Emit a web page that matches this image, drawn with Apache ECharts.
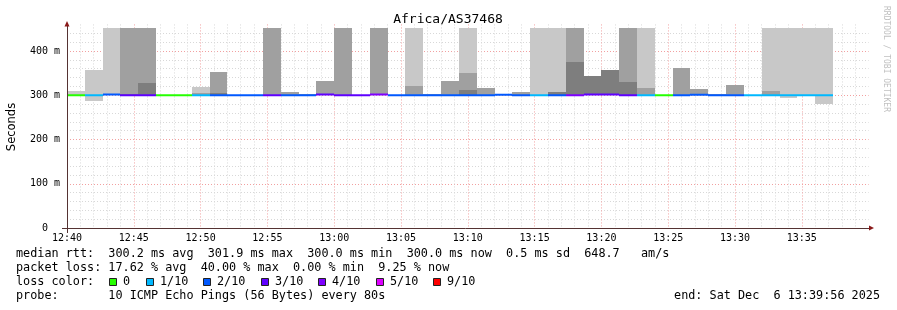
<!DOCTYPE html>
<html><head><meta charset="utf-8">
<script src="https://cdn.jsdelivr.net/npm/echarts@6/dist/echarts.min.js"></script>
<style>html,body{margin:0;padding:0;background:#fff}#c{width:897px;height:310px}</style>
</head><body><div id="c"></div>
<script>
// ---- data ----
const stepTimes = ['12:40:00','12:41:20','12:42:40','12:44:00','12:45:20','12:46:40','12:48:00','12:49:20','12:50:40','12:52:00',
  '12:53:20','12:54:40','12:56:00','12:57:20','12:58:40','13:00:00','13:01:20','13:02:40','13:04:00','13:05:20',
  '13:06:40','13:08:00','13:09:20','13:10:40','13:12:00','13:13:20','13:14:40','13:16:00','13:17:20','13:18:40',
  '13:20:00','13:21:20','13:22:40','13:24:00','13:25:20','13:26:40','13:28:00','13:29:20','13:30:40','13:32:00',
  '13:33:20','13:34:40','13:36:00'];
const stepSeconds = 80;
const lightLo = [300,288,300,null,null,null,null,300,null,null, null,null,null,null,null,null,null,null,null,300,
  null,null,300,null,null,null,300,300,null,null, null,null,300,null,null,null,null,null,null,300, 294,300,280];
const lightHi = [310,357,453,null,null,null,null,319,null,null, null,null,null,null,null,null,null,null,null,453,
  null,null,453,null,null,null,453,453,null,null, null,null,453,null,null,null,null,null,null,453, 453,453,453];
const midLo = [null,null,null,300,300,null,null,300,300,null, null,300,300,300,300,300,null,300,null,300,
  300,300,300,300,null,300,null,null,300,null, null,300,300,null,300,300,300,300,null,300, null,null,null];
const midHi = [null,null,null,453,453,null,null,305,353,null, null,453,308,303,333,453,null,453,null,321,
  303,332,350,316,null,307,null,null,453,null, null,453,316,null,362,314,303,323,null,310, null,null,null];
const darkLo = [null,null,null,300,300,null,null,null,300,null, null,null,null,null,null,null,null,null,null,null,
  null,null,300,null,null,null,null,300,300,300, 300,300,null,null,null,null,null,null,null,null, null,null,null];
const darkHi = [null,null,null,303,328,null,null,null,305,null, null,null,null,null,null,null,null,null,null,null,
  null,null,312,null,null,null,null,307,375,343, 357,330,null,null,null,null,null,null,null,null, null,null,null];
const medianRtt = [300.0,300.0,301.9,300.0,300.0,300.0,300.0,300.0,300.0,300.0, 300.0,300.0,300.0,300.0,301.5,300.0,300.0,301.5,300.0,300.0,
  300.0,300.0,300.0,300.0,301.2,300.0,300.0,300.0,300.0,301.5, 301.5,300.0,300.0,300.0,300.0,301.3,300.0,300.0,300.0,300.0, 300.0,300.0,300.0];
const lossCount = [0,1,2,3,3,0,0,1,2,2, 2,3,2,2,3,3,3,4,2,2, 2,2,2,2,2,2,1,2,4,3, 3,3,1,0,2,2,2,2,1,1, 1,1,1];
const lossLegendCounts = [0,1,2,3,4,5,9];
const lossLegendLabels = ['0','1/10','2/10','3/10','4/10','5/10','9/10'];
const lossLegendColors = ['#26ff00','#00b8ff','#0059ff','#5e00ff','#7e00ff','#dd00ff','#ff0000'];
const yTickValues = [0,100,200,300,400];
const xStart = '12:40:00', xEnd = '13:40:00';
const titleText = 'Africa/AS37468';
const statLines = [
  'median rtt:  300.2 ms avg  301.9 ms max  300.0 ms min  300.0 ms now  0.5 ms sd  648.7   am/s',
  'packet loss: 17.62 % avg  40.00 % max  0.00 % min  9.25 % now'
];
const probeLine = 'probe:       10 ICMP Echo Pings (56 Bytes) every 80s';
const endLine = 'end: Sat Dec  6 13:39:56 2025';

// ---- helpers ----
function ts(s){const p=s.split(':').map(Number);return Date.UTC(2025,11,6,p[0],p[1],p[2]);}
const lossColorMap = {};
lossLegendCounts.forEach((c,k)=>lossColorMap[c]=lossLegendColors[k]);
const pad=n=>(n<10?'0':'')+n;
const MONO='"DejaVu Sans Mono", monospace';
const LFONT='11.8px '+MONO;

function renderItem(params, api){
  const i = api.value(1);
  const t0 = api.value(0);
  const t1 = t0 + stepSeconds*1000;
  const ch = [];
  const x0 = Math.round(api.coord([t0, 0])[0]), x1 = Math.round(api.coord([t1, 0])[0]);
  function band(lo, hi, color){
    if (lo == null || hi == null) return;
    const yTop = Math.round(api.coord([t0, hi])[1]), yBot = Math.round(api.coord([t0, lo])[1]);
    ch.push({type:'rect', shape:{x:x0, y:yTop, width:x1-x0, height:yBot-yTop}, style:{fill:color}});
  }
  band(lightLo[i], lightHi[i], '#c8c8c8');
  band(midLo[i], midHi[i], '#a0a0a0');
  band(darkLo[i], darkHi[i], '#7e7e7e');
  const my = api.coord([t0, medianRtt[i]])[1];
  ch.push({type:'rect', shape:{x:x0, y:my-1, width:x1-x0, height:2}, style:{fill:lossColorMap[lossCount[i]]}});
  return {type:'group', children:ch};
}

const graphics = [];
graphics.push({type:'text', x:448, y:20, style:{text:titleText, font:'13px '+MONO, fill:'#000', textAlign:'center', textVerticalAlign:'middle'}});
graphics.push({type:'text', x:12, y:127, rotation:Math.PI/2, style:{text:'Seconds', font:'11.5px "DejaVu Sans", sans-serif', fill:'#000', textAlign:'center', textVerticalAlign:'middle'}});
graphics.push({type:'text', x:886, y:59, rotation:-Math.PI/2, style:{text:'RRDTOOL / TOBI OETIKER', font:'8px '+MONO, fill:'#c0c0c0', textAlign:'center', textVerticalAlign:'middle'}});
graphics.push({type:'line', z:100, shape:{x1:62, y1:228.5, x2:869, y2:228.5}, style:{stroke:'#553333', lineWidth:1}});
graphics.push({type:'line', z:100, shape:{x1:67.5, y1:24, x2:67.5, y2:233}, style:{stroke:'#553333', lineWidth:1}});
graphics.push({type:'polygon', z:101, shape:{points:[[64.5,26.5],[69.5,26.5],[67,21]]}, style:{fill:'#8a1a1a'}});
graphics.push({type:'polygon', z:101, shape:{points:[[869,225.5],[869,230.5],[874,228]]}, style:{fill:'#8a1a1a'}});
statLines.forEach((t,k)=>graphics.push({type:'text', x:16, y:254+14*k, style:{text:t, font:LFONT, fill:'#000', textVerticalAlign:'middle'}}));
graphics.push({type:'text', x:16, y:282, style:{text:'loss color:', font:LFONT, fill:'#000', textVerticalAlign:'middle'}});
const boxX = [109,146,203,261,318,376,433];
lossLegendLabels.forEach((lab,k)=>{
  graphics.push({type:'rect', shape:{x:boxX[k]+0.5, y:278.5, width:7, height:7}, style:{fill:lossLegendColors[k], stroke:'#222', lineWidth:1}});
  graphics.push({type:'text', x:boxX[k]+14, y:282, style:{text:lab, font:LFONT, fill:'#000', textVerticalAlign:'middle'}});
});
graphics.push({type:'text', x:16, y:296, style:{text:probeLine, font:LFONT, fill:'#000', textVerticalAlign:'middle'}});
graphics.push({type:'text', x:880, y:296, style:{text:endLine, font:LFONT, fill:'#000', textAlign:'right', textVerticalAlign:'middle'}});

const chart = echarts.init(document.getElementById('c'), null, {renderer:'canvas'});
chart.setOption({
  animation:false,
  backgroundColor:'#ffffff',
  grid:{left:67, right:28.4, top:24.45, bottom:82, containLabel:false},
  xAxis:{
    type:'value', min:ts(xStart), max:ts(xEnd), interval:60000,
    axisLine:{show:false}, axisTick:{show:false},
    axisLabel:{margin:5, fontFamily:'DejaVu Sans Mono', fontSize:10, color:'#000', showMaxLabel:false,
      formatter:v=>{const d=new Date(v);const m=d.getUTCMinutes();return m%5===0?pad(d.getUTCHours())+':'+pad(m):'';}},
    splitLine:{show:true, showMaxLine:false, lineStyle:{color:['#f2a0a0','#d8d8d8','#d8d8d8','#d8d8d8','#d8d8d8'], type:[1,2], width:1}}
  },
  yAxis:{
    type:'value', min:0, max:460, interval:20,
    axisLine:{show:false}, axisTick:{show:false},
    axisLabel:{margin:7, fontFamily:'DejaVu Sans Mono', fontSize:10, color:'#000', showMaxLabel:false,
      formatter:v=>yTickValues.indexOf(v)>=0?(v===0?'0  ':v+' m'):''},
    splitLine:{show:true, showMaxLine:false, lineStyle:{color:['#f2a0a0','#d8d8d8','#d8d8d8','#d8d8d8','#d8d8d8'], type:[1,2], width:1}}
  },
  series:[{
    type:'custom', renderItem:renderItem, clip:true,
    encode:{x:0, y:1},
    data: stepTimes.map((s,i)=>[ts(s), i])
  }],
  graphic:graphics
});
</script>
</body></html>
